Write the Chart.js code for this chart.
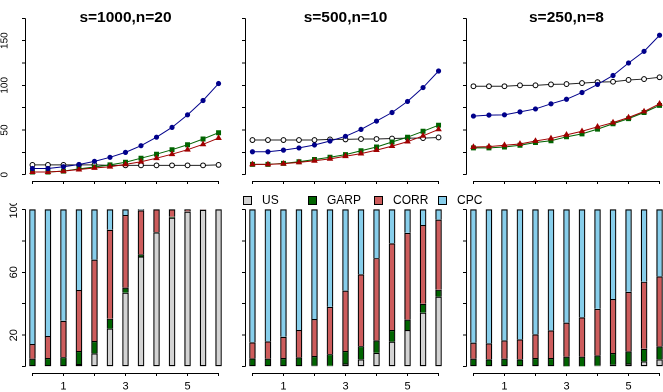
<!DOCTYPE html>
<html><head><meta charset="utf-8">
<script src="https://cdn.jsdelivr.net/npm/chart.js@4.4.1/dist/chart.umd.min.js"></script>
<style>
html,body{margin:0;padding:0;background:#fff;width:663px;height:392px;overflow:hidden;position:relative;font-family:"Liberation Sans",Arial,Helvetica,sans-serif;}
canvas{position:absolute;}
.title{position:absolute;text-align:center;font-weight:bold;font-size:15.5px;line-height:16px;color:#000;white-space:nowrap;}
.legtxt{position:absolute;font-size:12px;line-height:12px;color:#000;white-space:nowrap;}
.legbox{position:absolute;width:7px;height:7px;border:1px solid #000;}
</style></head><body>
<script>
const FONT = '"Liberation Sans", Arial, Helvetica, sans-serif';

// ---------- data ----------
const xPositions = [0,0.5,1,1.5,2,2.5,3,3.5,4,4.5,5,5.5,6];
const xTickValues = [0,1,2,3,4,5,6];
const xTickLabels = [1,3,5];
const topTickValues = [0,25,50,75,100,125,150,175];
const topTickLabels = [0,50,100,150];
const barTickValues = [0,20,40,60,80,100];
const barTickLabels = [20,60,100];
const panelTitles = ['s=1000,n=20','s=500,n=10','s=250,n=8'];
const seriesNames = ['US','GARP','CORR','CPC'];

// top row (line charts)
const blue1000  = [7,7,9,11.5,15,19.5,25,32.5,42,53,67,83,102];
const green1000 = [3,3,4,6.5,8.7,11,14,18.5,23,28,33.5,40,47];
const red1000   = [3,3,4,5.8,7.6,9,11.6,14.5,18.5,23,28,34,41];
const open1000  = [11,11,11,11,11,10.5,10.5,10.5,10.5,10.5,10.5,10.5,11];

const blue500  = [25.7,25.7,27.5,30,33.3,37.7,43,50.7,60,69.6,82,97.5,116];
const green500 = [11.6,11.6,12.7,14.5,17,19.6,22.5,26.8,31,36.6,42,48.6,55.4];
const red500   = [11.6,11.6,12.3,13.8,15.6,17.8,20.7,23.6,27.5,32,37,43.5,50.7];
const open500  = [38.8,38.8,38.8,38.8,38.8,39.5,39.5,40,40,40.5,41,41,41.7];

const blue250  = [65.6,66.7,67,70.3,73.6,79.3,84.4,92,101,111,125,138,156];
const green250 = [30,30,31,33,36,38,42.4,45.7,51,57,62.7,69.6,77.5];
const red250   = [31,31.5,33,34.4,37.7,40.6,44.6,48.6,53.6,58.3,64,70.7,79.3];
const open250  = [99,99,99,100,100,101,101.4,102.5,103.6,104,106,107,109];

// bottom row (stacked percentage bars)
const us1000   = [0,0,0,1.7,8.5,24.2,47,70,85.4,94.7,98.5,99.7,100];
const garp1000 = [5.1,5.5,6.1,8.3,7.8,6.3,3.2,1.4,0.2,0.6,0.2,0,0];
const corr1000 = [9.3,14,23.1,38.7,51.7,56.5,46.2,28,14.4,4.7,1.3,0.3,0];
const cpc1000  = [85.6,80.5,70.8,51.3,32,13,3.6,0.6,0,0,0,0,0];

const us500   = [0,0,0,0,0.7,0.5,2,4.7,8.8,15.9,23.3,34.3,44.5];
const garp500 = [5.3,5.1,5.5,5.9,6.1,7.5,8,8.4,7.9,7.4,6.6,5.7,4.4];
const corr500 = [10.2,11,13.5,17.4,23.5,30,38.3,45.6,52.3,55.1,55.1,50,44.5];
const cpc500  = [84.5,83.9,81,76.7,69.7,62,51.7,41.3,31,21.6,15,10,6.6];

const us250   = [0,0,0,0,0,0,0.2,0.2,0.6,1.3,2,3.4,4.7];
const garp250 = [5.1,4.7,5.1,4.7,5.5,5.5,6.2,6.2,6.6,7.4,7.7,8,8.2];
const corr250 = [10.2,10.1,11.6,12.7,15.1,17.6,21.6,25,29.5,34.3,37.8,42.6,44.5];
const cpc250  = [84.7,85.2,83.3,82.6,79.4,76.9,72,68.6,63.3,57,52.5,46,42.6];

const lineColors = {blue:'#00008B', green:'#006400', red:'#A00000', open:'#000000'};
const barColors = ['#D3D3D3','#006400','#CD5C5C','#87CEEB'];

// ---------- layout ----------
const PLOT_LEFT = [25,245,466];
const PLOT_W = 201;
const YAXIS_W = 25;
const RIGHT_PAD = 8;
const TOP_ROW = {top:7, h:174, axisH:12};
const BOT_ROW = {top:203, h:170, axisH:19};
const DPR = 2;

const rAxisPlugin = {
  id:'rAxis',
  afterDraw(chart){
    const {ctx, chartArea:a, scales:{x,y}} = chart;
    const al = v => Math.round(v - 0.5) + 0.5;
    ctx.save();
    ctx.strokeStyle = '#000'; ctx.lineWidth = 1;
    ctx.beginPath();
    const yt = y.ticks, xt = x.ticks;
    ctx.moveTo(al(a.left), y.getPixelForValue(yt[0].value));
    ctx.lineTo(al(a.left), y.getPixelForValue(yt[yt.length-1].value));
    ctx.moveTo(x.getPixelForValue(xt[0].value), al(a.bottom));
    ctx.lineTo(x.getPixelForValue(xt[xt.length-1].value), al(a.bottom));
    ctx.stroke();
    ctx.restore();
  }
};

function makeCanvas(col,row){
  const c = document.createElement('canvas');
  const w = YAXIS_W + PLOT_W + RIGHT_PAD, h = row.h + row.axisH;
  c.width = w; c.height = h;
  c.style.left = (PLOT_LEFT[col] - YAXIS_W) + 'px';
  c.style.top = row.top + 'px';
  c.style.width = w + 'px'; c.style.height = h + 'px';
  document.body.appendChild(c);
  return c;
}

function xScale(row, showLabels){
  return {
    type:'linear', min:-0.24, max:6.24, stacked:true, offset:false,
    afterBuildTicks: s => { s.ticks = xTickValues.map(v => ({value:v})); },
    afterFit: s => { s.height = row.axisH; s.paddingLeft = 0; s.paddingRight = 0; },
    grid:{display:true, drawOnChartArea:false, drawTicks:true, tickLength:3, color:'#000', lineWidth:1, offset:false},
    border:{display:false},
    ticks:{autoSkip:false, maxRotation:0, minRotation:0, padding:4, color:'#000',
      font:{family:FONT, size:11},
      callback: v => (showLabels && xTickLabels.includes(v)) ? String(v) : ''}
  };
}

function yScale(min, max, tickVals, tickLabels, fontSize, pad, stacked, showLabels){
  return {
    type:'linear', min, max, stacked,
    afterBuildTicks: s => { s.ticks = tickVals.map(v => ({value:v})); },
    afterFit: s => { s.width = YAXIS_W; s.paddingTop = 0; s.paddingBottom = 0; },
    grid:{display:true, drawOnChartArea:false, drawTicks:true, tickLength:3, color:'#000', lineWidth:1},
    border:{display:false},
    ticks:{autoSkip:false, minRotation:90, maxRotation:90, crossAlign:'center', padding:pad, color:'#000',
      font:{family:FONT, size:fontSize},
      callback: v => (showLabels && tickLabels.includes(v)) ? String(v) : ''}
  };
}

function pts(arr){ return xPositions.map((x,i) => ({x, y:arr[i]})); }

const baseOpts = {
  responsive:false, animation:false, devicePixelRatio:DPR,
  layout:{padding:{left:0, right:RIGHT_PAD, top:0, bottom:0}},
  plugins:{legend:{display:false}, title:{display:false}, tooltip:{enabled:false}}
};

const lineSets = [
  [blue1000, green1000, red1000, open1000],
  [blue500, green500, red500, open500],
  [blue250, green250, red250, open250]
];
const barSets = [
  [us1000, garp1000, corr1000, cpc1000],
  [us500, garp500, corr500, cpc500],
  [us250, garp250, corr250, cpc250]
];

for (let c = 0; c < 3; c++){
  const [b, g, r, o] = lineSets[c];
  const firstCol = (c === 0);
  new Chart(makeCanvas(c, TOP_ROW), {
    type:'line',
    data:{datasets:[
      {label:'blue', data:pts(b), order:0, borderColor:lineColors.blue, borderWidth:1, pointStyle:'circle', pointRadius:2.1, pointBorderWidth:1, pointBackgroundColor:lineColors.blue, pointBorderColor:lineColors.blue, tension:0, fill:false},
      {label:'red', data:pts(r), order:1, borderColor:lineColors.red, borderWidth:1, pointStyle:'triangle', pointRadius:2.8, pointBorderWidth:1, pointBackgroundColor:lineColors.red, pointBorderColor:lineColors.red, tension:0, fill:false},
      {label:'green', data:pts(g), order:2, borderColor:lineColors.green, borderWidth:1, pointStyle:'rect', pointRadius:2.8, pointBorderWidth:1, pointBackgroundColor:lineColors.green, pointBorderColor:lineColors.green, tension:0, fill:false},
      {label:'open', data:pts(o), order:3, borderColor:'#222', borderWidth:1, pointStyle:'circle', pointRadius:2.4, pointBorderWidth:1, pointBackgroundColor:'#fff', pointBorderColor:'#000', tension:0, fill:false}
    ]},
    options:Object.assign({}, baseOpts, {
      scales:{ x:xScale(TOP_ROW, false), y:yScale(-7, 182, topTickValues, topTickLabels, 10, 8.8, false, firstCol) }
    }),
    plugins:[rAxisPlugin]
  });

  const comps = barSets[c];
  new Chart(makeCanvas(c, BOT_ROW), {
    type:'bar',
    data:{datasets: comps.map((arr, k) => ({
      label: seriesNames[k], data: pts(arr),
      backgroundColor: barColors[k], borderColor:'#000', borderWidth:1.2,
      borderSkipped: ctx => {
        let below = 0;
        for (let j = 0; j < k; j++) below += comps[j][ctx.dataIndex];
        return below > 0 ? 'start' : false;
      },
      barThickness:6.5, inflateAmount:0
    }))},
    options:Object.assign({}, baseOpts, {
      scales:{ x:xScale(BOT_ROW, true), y:yScale(-4, 104, barTickValues, barTickLabels, 11, -1, true, firstCol) }
    }),
    plugins:[rAxisPlugin]
  });

  const t = document.createElement('div');
  t.className = 'title';
  t.textContent = panelTitles[c];
  t.style.left = PLOT_LEFT[c] + 'px';
  t.style.width = PLOT_W + 'px';
  t.style.top = '9px';
  document.body.appendChild(t);
}

// legend
const legendBoxX = [243, 308, 374, 438];
seriesNames.forEach((name, k) => {
  const bx = document.createElement('div');
  bx.className = 'legbox';
  bx.style.left = legendBoxX[k] + 'px';
  bx.style.top = '196px';
  bx.style.background = barColors[k];
  document.body.appendChild(bx);
  const tx = document.createElement('div');
  tx.className = 'legtxt';
  tx.textContent = name;
  tx.style.left = (legendBoxX[k] + 19) + 'px';
  tx.style.top = '193.6px';
  document.body.appendChild(tx);
});
</script>
</body></html>
